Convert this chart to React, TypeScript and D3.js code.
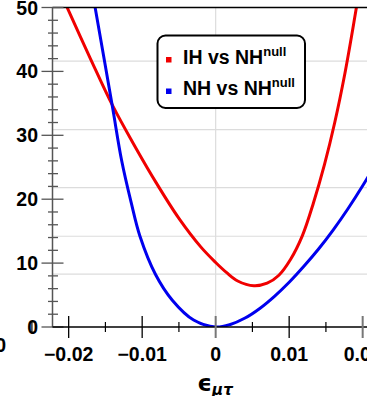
import { useEffect, useRef } from 'react';
import * as d3 from 'd3';

// IH vs NH^null (red)
const ihEps = [-0.0204, -0.017, -0.014, -0.011, -0.008, -0.005, -0.002, 0, 0.0015, 0.003, 0.0052, 0.007, 0.0086, 0.0102, 0.0118, 0.0133, 0.0148, 0.0162, 0.0176, 0.0189, 0.0195];
const ihChi = [50.5, 41.9, 34.6, 28.3, 22.4, 17.0, 12.5, 10.1, 8.5, 7.2, 6.45, 6.85, 8.1, 10.6, 14.3, 19.4, 25.4, 32.0, 39.8, 48.3, 52.5];

// NH vs NH^null (blue)
const nhEps = [-0.0164, -0.01405, -0.0128, -0.0115, -0.0103, -0.0082, -0.0059, -0.003, 0, 0.002, 0.004, 0.006, 0.008, 0.01, 0.012, 0.014, 0.016, 0.018, 0.02, 0.0215];
const nhChi = [50, 34.5, 26.1, 19.5, 14.2, 8.26, 4.2, 1.1, 0, 0.4, 1.4, 2.9, 4.8, 7.0, 9.5, 12.2, 15.2, 18.5, 22.1, 25];

const xTicks = [-0.02, -0.01, 0, 0.01, 0.02];
const xTickLabels = ['\u22120.02', '\u22120.01', '0', '0.01', '0.02'];
const yTicks = [0, 10, 20, 30, 40, 50];
const hGrid = [8.26, 14.2, 21.8, 30.9, 41.6];
const vGrid = [0];

const legendLabels = ['IH vs NH', 'NH vs NH'];
const legendColors = ['#f00000', '#0000ee'];

const W = 367;
const H = 396;
const FONT = "'Liberation Sans', Arial, Helvetica, sans-serif";

export default function App() {
  const svgRef = useRef<SVGSVGElement>(null);

  useEffect(() => {
    if (!svgRef.current) return;
    const svg = d3.select(svgRef.current);
    svg.selectAll('*').remove();

    const left = 52.5, top = 7.5, bottom = 327;
    const x = d3.scaleLinear().domain([-0.0222, 0.0222]).range([left, left + 0.0444 * 7350]);
    const y = d3.scaleLinear().domain([0, 50]).range([bottom, top]);

    svg.append('defs').append('clipPath').attr('id', 'plot-clip')
      .append('rect').attr('x', left).attr('y', top).attr('width', W - left).attr('height', bottom - top);

    // grid
    svg.append('g').selectAll('line').data(hGrid).join('line')
      .attr('x1', left).attr('x2', W).attr('y1', d => y(d)).attr('y2', d => y(d))
      .attr('stroke', '#dcdcdc').attr('stroke-width', 1.2);
    svg.append('g').selectAll('line').data(vGrid).join('line')
      .attr('x1', d => x(d)).attr('x2', d => x(d)).attr('y1', top).attr('y2', bottom)
      .attr('stroke', '#dcdcdc').attr('stroke-width', 1.2);

    // curves
    const line = d3.line<[number, number]>()
      .x(d => x(d[0])).y(d => y(d[1]))
      .curve(d3.curveCatmullRom.alpha(0.5));
    const curves = svg.append('g').attr('clip-path', 'url(#plot-clip)');
    curves.append('path')
      .datum(ihEps.map((e, i) => [e, ihChi[i]] as [number, number]))
      .attr('d', line).attr('fill', 'none').attr('stroke', legendColors[0]).attr('stroke-width', 3);
    curves.append('path')
      .datum(nhEps.map((e, i) => [e, nhChi[i]] as [number, number]))
      .attr('d', line).attr('fill', 'none').attr('stroke', legendColors[1]).attr('stroke-width', 3);

    // frame top
    svg.append('line').attr('x1', left).attr('x2', W).attr('y1', top).attr('y2', top)
      .attr('stroke', '#000').attr('stroke-width', 1.5);

    // y axis
    const yMinor = d3.range(0, 51, 2).filter(v => v % 10 !== 0);
    const yg = svg.append('g');
    yg.append('line').attr('x1', left).attr('x2', left).attr('y1', top).attr('y2', bottom)
      .attr('stroke', '#555').attr('stroke-width', 1.5);
    yg.selectAll('line.minor').data(yMinor).join('line').attr('class', 'minor')
      .attr('x1', left - 4.5).attr('x2', left + 5.5).attr('y1', d => y(d)).attr('y2', d => y(d))
      .attr('stroke', '#555').attr('stroke-width', 1.3);
    yg.selectAll('line.major').data(yTicks).join('line').attr('class', 'major')
      .attr('x1', left - 11).attr('x2', left + 11).attr('y1', d => y(d)).attr('y2', d => y(d))
      .attr('stroke', '#555').attr('stroke-width', 1.3);
    yg.selectAll('text').data(yTicks).join('text')
      .attr('x', 38).attr('y', d => y(d)).attr('dy', '0.36em')
      .attr('text-anchor', 'end').attr('font-family', FONT).attr('font-weight', 'bold')
      .attr('font-size', 19.5).attr('fill', '#000').text(d => String(d));

    // x axis
    const xMinor = xTicks.map(t => t + 0.005).concat([-0.025]);
    const xg = svg.append('g');
    xg.append('line').attr('x1', left).attr('x2', W).attr('y1', bottom).attr('y2', bottom)
      .attr('stroke', '#000').attr('stroke-width', 1.5);
    xg.selectAll('line.minor').data(xMinor).join('line').attr('class', 'minor')
      .attr('x1', d => x(d)).attr('x2', d => x(d)).attr('y1', bottom - 5).attr('y2', bottom + 5)
      .attr('stroke', '#000').attr('stroke-width', 1.2);
    xg.selectAll('line.major').data(xTicks).join('line').attr('class', 'major')
      .attr('x1', d => x(d)).attr('x2', d => x(d)).attr('y1', bottom - 11).attr('y2', bottom + 11)
      .attr('stroke', d => (d < 0 || d === 0.01 ? '#000' : '#777')).attr('stroke-width', d => (d < 0 || d === 0.01 ? 1.3 : 2));
    xg.selectAll('text').data(xTicks).join('text')
      .attr('x', d => x(d)).attr('y', bottom + 33.5)
      .attr('text-anchor', 'middle').attr('font-family', FONT).attr('font-weight', 'bold')
      .attr('font-size', 19.5).attr('fill', '#000').text((_, i) => xTickLabels[i]);

    // stray label from neighbouring panel
    svg.append('text').attr('x', 6).attr('y', 352).attr('text-anchor', 'end')
      .attr('font-family', FONT).attr('font-weight', 'bold').attr('font-size', 19.5).text('0');

    // x title
    const title = svg.append('text').attr('x', 215).attr('y', 391).attr('text-anchor', 'middle')
      .attr('font-family', "'DejaVu Sans', sans-serif").attr('fill', '#000');
    title.append('tspan').attr('font-size', 23).attr('font-weight', 'bold').text('\u03F5');
    title.append('tspan').attr('font-size', 15).attr('font-weight', 'bold').attr('font-style', 'italic').attr('dy', 4).text('\u03BC\u03C4');

    // legend
    const lg = svg.append('g');
    lg.append('rect').attr('x', 157.5).attr('y', 35.5).attr('width', 147.5).attr('height', 72.5)
      .attr('rx', 8).attr('fill', '#fff').attr('stroke', '#000').attr('stroke-width', 2);
    legendLabels.forEach((lab, i) => {
      const by = 63.5 + i * 31.5;
      lg.append('rect').attr('x', 166).attr('y', by - 6.5).attr('width', 5.5).attr('height', 5.5)
        .attr('fill', legendColors[i]);
      const t = lg.append('text').attr('x', 183).attr('y', by)
        .attr('font-family', FONT).attr('font-weight', 'bold').attr('font-size', 19.5).attr('fill', '#000');
      t.append('tspan').text(lab);
      t.append('tspan').attr('font-size', 13).attr('dy', -8).text('null');
    });
  }, []);

  return (
    <svg ref={svgRef} width={W} height={H}
      style={{ position: 'absolute', left: 0, top: 0, background: '#fff' }} />
  );
}
